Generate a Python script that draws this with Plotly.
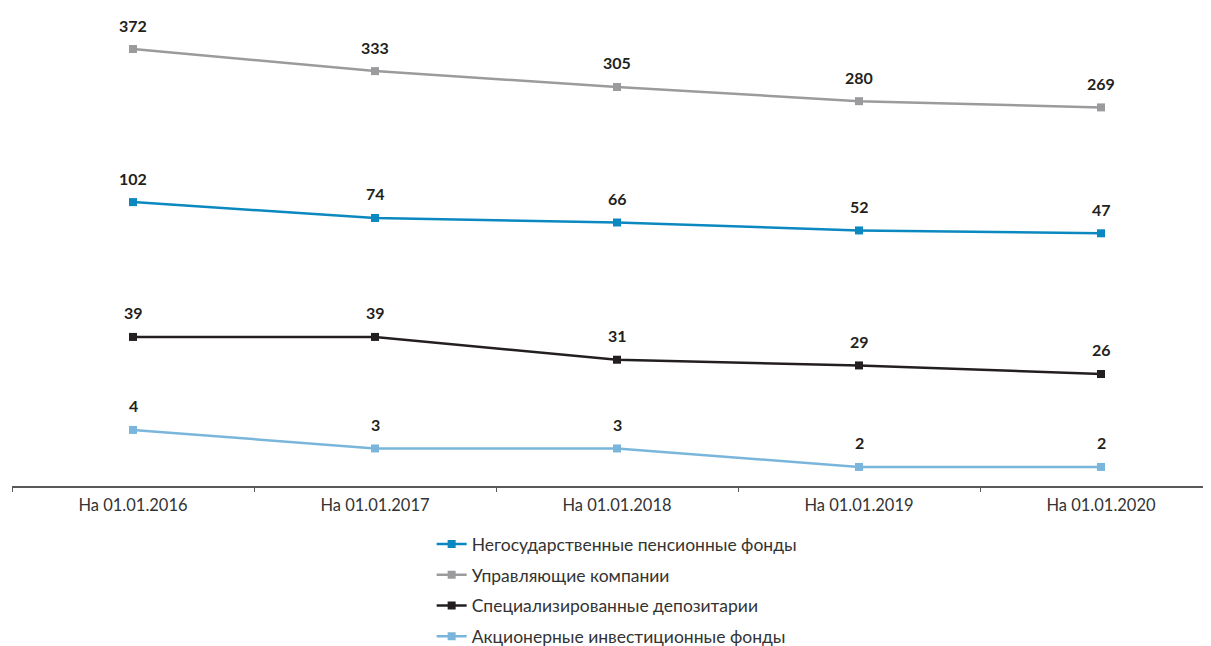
import plotly.graph_objects as go

categories = ["На 01.01.2016", "На 01.01.2017", "На 01.01.2018", "На 01.01.2019", "На 01.01.2020"]
npf = [102, 74, 66, 52, 47]
uk = [372, 333, 305, 280, 269]
sd = [39, 39, 31, 29, 26]
aif = [4, 3, 3, 2, 2]

names = ["Негосударственные пенсионные фонды", "Управляющие компании",
         "Специализированные депозитарии", "Акционерные инвестиционные фонды"]
colors = ["#0a88bf", "#9b9b9d", "#231f20", "#7ab6dc"]
series = [npf, uk, sd, aif]
axes = ["y", "y", "y2", "y3"]

FONT = "Lato"
fig = go.Figure()
annotations = []
for i, (name, vals, col, ax) in enumerate(zip(names, series, colors, axes)):
    fig.add_trace(go.Scatter(
        x=categories, y=vals, name=name, mode="lines+markers", yaxis=ax,
        legendgroup=f"g{i}",
        line=dict(color=col, width=2.5),
        marker=dict(symbol="square", size=8, color=col),
        cliponaxis=False,
    ))
    for c, v in zip(categories, vals):
        annotations.append(dict(
            x=c, y=v, xref="x", yref=ax, text=f"<b>{v}</b>", showarrow=False,
            yshift=24, font=dict(family=FONT, size=16, color="#231f20"),
        ))

fig.update_layout(
    width=1203, height=638,
    margin=dict(l=4, r=0, t=0, b=160),
    paper_bgcolor="white", plot_bgcolor="white",
    font=dict(family=FONT, size=16, color="#333333"),
    showlegend=True,
    legend=dict(orientation="v", x=0.350, xanchor="left", xref="paper",
                y=0.188, yanchor="top", yref="container",
                font=dict(family=FONT, size=17.5, color="#333333"),
                tracegroupgap=5, itemwidth=30),
    xaxis=dict(type="category", range=[-0.5, -0.5 + 1199 / 242],
               showline=True, linecolor="#595959", linewidth=1.5,
               ticks="outside", tickson="boundaries", ticklen=4, tickcolor="#595959",
               showgrid=False, zeroline=False, automargin=False,
               ticklabelstandoff=3,
               tickfont=dict(family=FONT, size=16.5, color="#333333")),
    yaxis=dict(range=[-398.7, 444.3], visible=False, showgrid=False),
    yaxis2=dict(range=[-13.3, 154.4], overlaying="y", visible=False, showgrid=False),
    yaxis3=dict(range=[0.97, 26.81], overlaying="y", visible=False, showgrid=False),
    annotations=annotations,
)
fig.write_html("out.html")
